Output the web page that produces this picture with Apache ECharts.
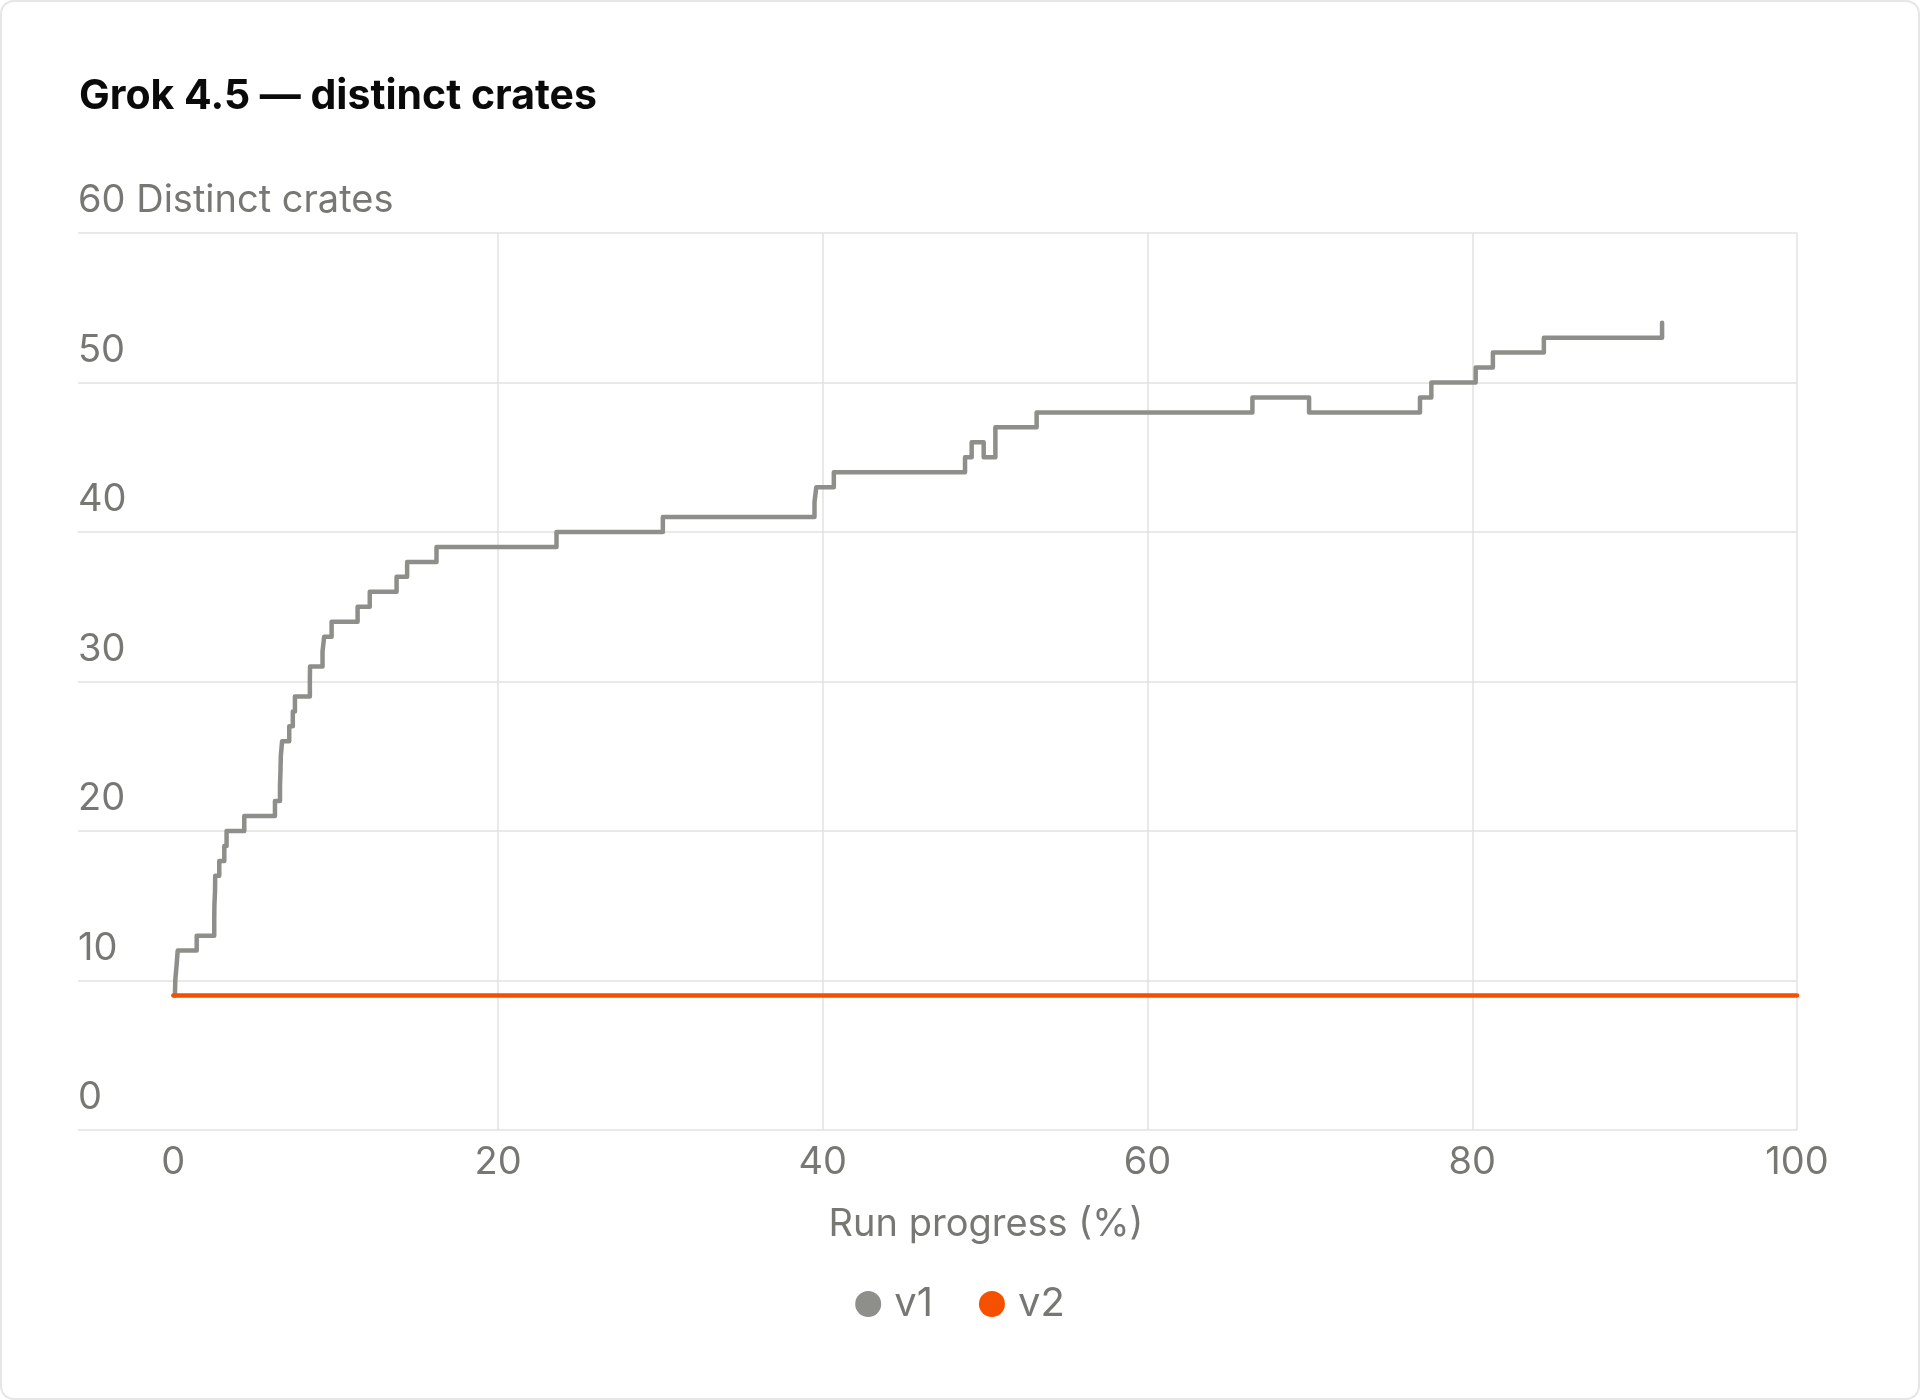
<!DOCTYPE html>
<html>
<head>
<meta charset="utf-8">
<title>Grok 4.5 — distinct crates</title>
<script src="https://cdn.jsdelivr.net/npm/echarts@6/dist/echarts.min.js"></script>
<style>
  html, body { margin: 0; padding: 0; background: #fff; }
  #main { position: absolute; left: 0; top: 0; width: 1920px; height: 1400px; }
  #card { position: absolute; left: 0; top: 0; width: 1920px; height: 1400px; box-sizing: border-box;
          border: 2px solid #e6e6e4; border-radius: 14px; pointer-events: none; }
</style>
</head>
<body>
<div id="main"></div>
<div id="card"></div>
<script>
// v1: run progress (%) where the count changes, and the new count
var v1X = [0.1, 0.12, 0.2, 0.27, 1.44, 2.52, 2.53, 2.57, 2.58, 2.83, 3.14, 3.28, 4.37,
           6.26, 6.57, 6.6, 6.62, 6.7, 7.14, 7.36, 7.49, 8.41, 8.42, 9.19, 9.29, 9.75,
           11.35, 12.1, 13.75, 14.4, 16.21, 23.6, 30.15, 39.49, 39.6, 40.68, 48.76,
           49.17, 49.91, 50.63, 53.17, 66.46, 69.95, 76.78, 77.48, 80.21, 81.27, 84.41, 91.69];
var v1Y = [9, 10, 11, 12, 13, 14, 15, 16, 17, 18, 19, 20, 21,
           22, 23, 24, 25, 26, 27, 28, 29, 30, 31, 32, 33, 34,
           35, 36, 37, 38, 39, 40, 41, 42, 43, 44, 45,
           46, 45, 47, 48, 49, 48, 49, 50, 51, 52, 53, 54];

// v2: flat
var v2X = [0, 100];
var v2Y = [9, 9];

var xLabelValues = [0, 20, 40, 60, 80, 100];
var xGridValues = [20, 40, 60, 80, 100];
var yAxisTitle = 'Distinct crates';
var xAxisTitle = 'Run progress (%)';

function pairs(xs, ys) {
    return xs.map(function (x, i) { return [x, ys[i]]; });
}

var font = 'Inter';
var labelColor = '#777773';
var gridColor = '#e2e2e0';

var myChart = echarts.init(document.getElementById('main'));

var option = {
    animation: false,
    textStyle: { fontFamily: font },
    title: {
        text: 'Grok 4.5 — distinct crates',
        left: 74,
        top: 71,
        textStyle: { fontFamily: font, fontSize: 41, fontWeight: 'bold', color: '#0a0a0a' }
    },
    legend: {
        data: ['v1', 'v2'],
        left: 'center',
        top: 1279,
        icon: 'circle',
        itemWidth: 26,
        itemHeight: 26,
        itemGap: 46,
        textStyle: { fontFamily: font, fontSize: 40, color: labelColor, padding: [0, 0, 0, 8] }
    },
    grid: { left: 78, right: 123, top: 233, bottom: 270, containLabel: false },
    xAxis: {
        type: 'value',
        min: -5.87,
        max: 100,
        name: xAxisTitle,
        nameLocation: 'middle',
        nameGap: 76,
        nameTextStyle: { fontFamily: font, fontSize: 38, color: labelColor, padding: [0, 0, 0, 97] },
        axisLine: { show: false },
        axisTick: { show: false, customValues: xGridValues },
        axisLabel: { customValues: xLabelValues, margin: 14, fontSize: 38, color: labelColor, fontFamily: font },
        splitLine: { show: true, lineStyle: { color: gridColor, width: 1.5 } }
    },
    yAxis: {
        type: 'value',
        min: 0,
        max: 60,
        interval: 10,
        axisLine: { show: false },
        axisTick: { show: false },
        axisLabel: {
            inside: true,
            margin: 0,
            verticalAlign: 'bottom',
            padding: [0, 0, 13, 0],
            fontSize: 38,
            color: labelColor,
            fontFamily: font,
            formatter: function (v) { return v === 60 ? v + ' ' + yAxisTitle : String(v); }
        },
        splitLine: { show: true, lineStyle: { color: gridColor, width: 1.5 } }
    },
    series: [
        {
            name: 'v1',
            type: 'line',
            step: 'end',
            showSymbol: false,
            color: '#8e8e8a',
            lineStyle: { width: 4.5, cap: 'round', join: 'round' },
            data: pairs(v1X, v1Y)
        },
        {
            name: 'v2',
            type: 'line',
            showSymbol: false,
            color: '#f55000',
            lineStyle: { width: 4.5, cap: 'round' },
            data: pairs(v2X, v2Y)
        }
    ]
};
myChart.setOption(option);
</script>
</body>
</html>
